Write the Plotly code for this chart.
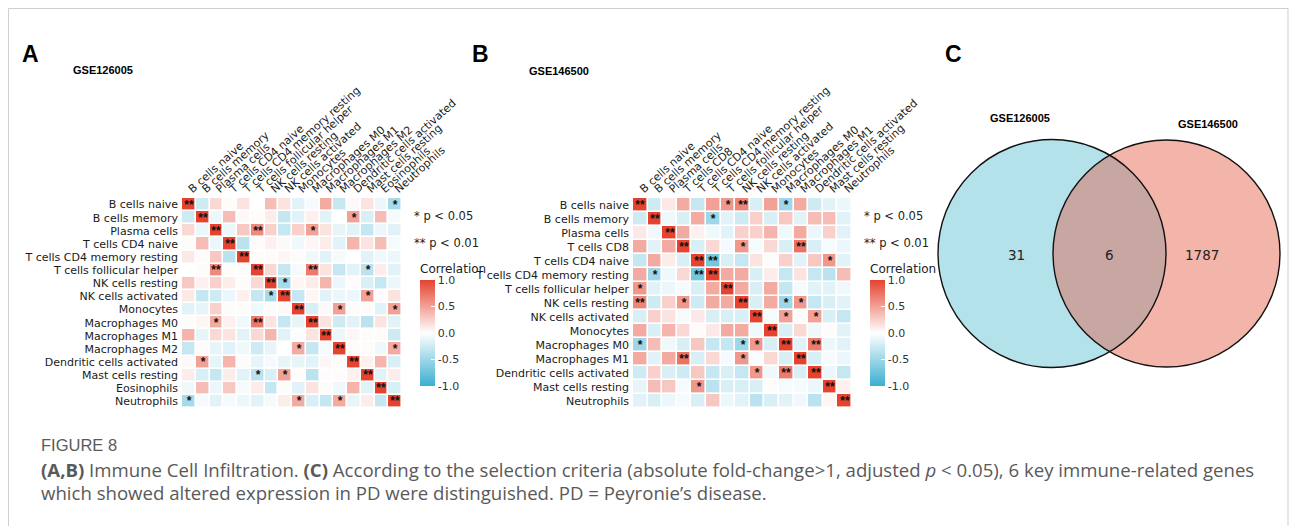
import numpy as np
import plotly.graph_objects as go

W, H = 1293, 526

# ---------------- data ----------------
cells_a = ["B cells naive", "B cells memory", "Plasma cells", "T cells CD4 naive",
           "T cells CD4 memory resting", "T cells follicular helper", "NK cells resting",
           "NK cells activated", "Monocytes", "Macrophages M0", "Macrophages M1",
           "Macrophages M2", "Dendritic cells activated", "Mast cells resting",
           "Eosinophils", "Neutrophils"]

corr_a = [
    [1.00, -0.25, 0.20, 0.02, 0.15, 0.00, 0.35, 0.15, -0.15, -0.05, 0.45, -0.30, 0.03, 0.15, -0.10, -0.45],
    [-0.25, 1.00, -0.10, 0.35, 0.03, 0.02, 0.10, -0.30, -0.15, 0.08, -0.15, 0.00, 0.50, -0.20, 0.35, -0.05],
    [0.20, -0.10, 1.00, -0.10, 0.30, 0.62, 0.25, -0.30, 0.25, 0.50, 0.15, -0.12, -0.15, -0.30, -0.10, -0.15],
    [0.02, 0.35, -0.10, 1.00, -0.35, 0.02, 0.08, 0.03, -0.08, 0.05, 0.10, -0.15, 0.40, 0.15, 0.35, -0.05],
    [0.12, 0.02, 0.30, -0.35, 1.00, 0.02, 0.02, 0.05, 0.02, -0.08, -0.15, -0.05, 0.00, -0.15, -0.08, -0.10],
    [0.00, 0.02, 0.62, 0.02, 0.02, 1.00, 0.20, -0.30, -0.05, 0.70, 0.15, -0.30, -0.15, -0.35, 0.10, -0.15],
    [0.30, 0.08, 0.25, 0.10, 0.02, 0.20, 1.00, -0.45, 0.05, 0.10, 0.40, -0.10, 0.02, -0.20, -0.30, -0.10],
    [0.12, -0.30, -0.25, -0.10, 0.08, -0.30, -0.45, 1.00, -0.30, 0.05, -0.15, -0.10, -0.10, 0.50, 0.02, 0.15],
    [-0.15, -0.12, 0.25, 0.02, 0.02, -0.08, 0.02, 0.03, 1.00, -0.20, 0.03, 0.50, 0.02, 0.02, -0.15, 0.50],
    [0.02, 0.05, 0.45, 0.08, -0.08, 0.70, 0.15, -0.30, -0.12, 1.00, 0.15, -0.25, -0.15, -0.35, 0.15, -0.15],
    [0.40, -0.12, 0.20, 0.15, -0.15, 0.20, 0.40, -0.15, -0.03, 0.15, 1.00, -0.10, 0.05, 0.02, 0.02, -0.25],
    [-0.30, 0.02, -0.12, -0.15, -0.08, -0.25, -0.12, 0.00, 0.45, -0.30, -0.05, 1.00, 0.02, 0.02, -0.08, 0.45],
    [0.03, 0.50, -0.12, 0.40, 0.02, -0.12, -0.05, -0.12, -0.12, -0.15, 0.05, 0.02, 1.00, 0.08, 0.40, -0.20],
    [0.10, -0.20, -0.30, 0.10, -0.15, -0.35, -0.20, 0.50, 0.02, -0.35, 0.02, 0.02, 0.08, 1.00, -0.15, 0.10],
    [-0.08, 0.35, -0.10, 0.30, -0.05, 0.10, -0.30, 0.02, -0.15, 0.15, 0.02, -0.08, 0.40, -0.15, 1.00, -0.20],
    [-0.45, -0.05, -0.15, -0.05, -0.10, -0.15, -0.05, 0.10, 0.45, -0.20, -0.30, 0.45, -0.12, 0.10, -0.30, 1.00],
]

# significance level per cell: 0 = n.s., 1 = p < 0.05, 2 = p < 0.01
sig_a = [
    [2, 0, 0, 0, 0, 0, 0, 0, 0, 0, 0, 0, 0, 0, 0, 1],
    [0, 2, 0, 0, 0, 0, 0, 0, 0, 0, 0, 0, 1, 0, 0, 0],
    [0, 0, 2, 0, 0, 2, 0, 0, 0, 1, 0, 0, 0, 0, 0, 0],
    [0, 0, 0, 2, 0, 0, 0, 0, 0, 0, 0, 0, 0, 0, 0, 0],
    [0, 0, 0, 0, 2, 0, 0, 0, 0, 0, 0, 0, 0, 0, 0, 0],
    [0, 0, 2, 0, 0, 2, 0, 0, 0, 2, 0, 0, 0, 1, 0, 0],
    [0, 0, 0, 0, 0, 0, 2, 1, 0, 0, 0, 0, 0, 0, 0, 0],
    [0, 0, 0, 0, 0, 0, 1, 2, 0, 0, 0, 0, 0, 1, 0, 0],
    [0, 0, 0, 0, 0, 0, 0, 0, 2, 0, 0, 1, 0, 0, 0, 1],
    [0, 0, 1, 0, 0, 2, 0, 0, 0, 2, 0, 0, 0, 0, 0, 0],
    [0, 0, 0, 0, 0, 0, 0, 0, 0, 0, 2, 0, 0, 0, 0, 0],
    [0, 0, 0, 0, 0, 0, 0, 0, 1, 0, 0, 2, 0, 0, 0, 1],
    [0, 1, 0, 0, 0, 0, 0, 0, 0, 0, 0, 0, 2, 0, 0, 0],
    [0, 0, 0, 0, 0, 1, 0, 1, 0, 0, 0, 0, 0, 2, 0, 0],
    [0, 0, 0, 0, 0, 0, 0, 0, 0, 0, 0, 0, 0, 0, 2, 0],
    [1, 0, 0, 0, 0, 0, 0, 0, 1, 0, 0, 1, 0, 0, 0, 2],
]

cells_b = ["B cells naive", "B cells memory", "Plasma cells", "T cells CD8",
           "T cells CD4 naive", "T cells CD4 memory resting", "T cells follicular helper",
           "NK cells resting", "NK cells activated", "Monocytes", "Macrophages M0",
           "Macrophages M1", "Dendritic cells activated", "Mast cells resting", "Neutrophils"]

corr_b = [
    [1.00, -0.25, 0.12, 0.45, -0.30, 0.50, 0.55, 0.65, -0.20, 0.50, -0.50, 0.45, -0.25, -0.15, -0.10],
    [-0.25, 1.00, -0.08, -0.20, 0.45, -0.50, -0.15, -0.25, 0.25, -0.20, 0.30, -0.15, 0.35, 0.35, -0.15],
    [0.12, -0.08, 1.00, 0.45, 0.08, -0.08, -0.15, 0.25, 0.25, 0.40, -0.08, 0.45, -0.10, 0.25, -0.15],
    [0.45, -0.15, 0.45, 1.00, -0.20, 0.20, -0.05, 0.55, -0.05, 0.20, -0.20, 0.75, -0.20, -0.05, -0.10],
    [-0.30, 0.45, 0.10, -0.20, 1.00, -0.70, -0.20, -0.30, 0.15, 0.02, 0.25, -0.15, 0.30, 0.55, -0.15],
    [0.45, -0.50, -0.08, 0.20, -0.70, 1.00, 0.45, 0.45, -0.20, 0.10, -0.30, 0.15, -0.30, -0.35, 0.35],
    [0.55, -0.15, -0.10, -0.05, -0.20, 0.45, 1.00, 0.45, -0.20, 0.45, -0.30, -0.05, -0.15, -0.15, -0.08],
    [0.65, -0.25, 0.25, 0.55, -0.25, 0.45, 0.45, 1.00, -0.20, 0.45, -0.50, 0.55, -0.30, -0.20, -0.15],
    [-0.20, 0.25, 0.15, -0.05, 0.12, -0.20, -0.20, -0.20, 1.00, -0.05, 0.50, 0.02, 0.50, -0.20, -0.30],
    [0.45, -0.20, 0.40, 0.20, 0.02, 0.12, 0.45, 0.45, -0.08, 1.00, -0.20, 0.20, -0.08, 0.02, -0.15],
    [-0.50, 0.35, -0.08, -0.20, 0.30, -0.30, -0.30, -0.50, 0.55, -0.20, 1.00, -0.15, 0.70, -0.10, -0.15],
    [0.45, -0.15, 0.45, 0.75, -0.20, 0.20, -0.05, 0.55, -0.03, 0.20, -0.20, 1.00, -0.20, -0.05, -0.10],
    [-0.25, 0.25, -0.20, -0.25, 0.30, -0.30, -0.20, -0.30, 0.55, -0.08, 0.70, -0.20, 1.00, -0.10, -0.30],
    [-0.12, 0.35, 0.30, -0.05, 0.55, -0.35, -0.20, -0.20, -0.20, 0.02, -0.05, -0.05, -0.10, 1.00, 0.08],
    [-0.15, -0.20, -0.10, -0.05, -0.20, 0.30, -0.10, -0.15, -0.35, -0.20, -0.15, -0.08, -0.35, 0.05, 1.00],
]

sig_b = [
    [2, 0, 0, 0, 0, 0, 1, 2, 0, 0, 1, 0, 0, 0, 0],
    [0, 2, 0, 0, 0, 1, 0, 0, 0, 0, 0, 0, 0, 0, 0],
    [0, 0, 2, 0, 0, 0, 0, 0, 0, 0, 0, 0, 0, 0, 0],
    [0, 0, 0, 2, 0, 0, 0, 1, 0, 0, 0, 2, 0, 0, 0],
    [0, 0, 0, 0, 2, 2, 0, 0, 0, 0, 0, 0, 0, 1, 0],
    [0, 1, 0, 0, 2, 2, 0, 0, 0, 0, 0, 0, 0, 0, 0],
    [1, 0, 0, 0, 0, 0, 2, 0, 0, 0, 0, 0, 0, 0, 0],
    [2, 0, 0, 1, 0, 0, 0, 2, 0, 0, 1, 1, 0, 0, 0],
    [0, 0, 0, 0, 0, 0, 0, 0, 2, 0, 1, 0, 1, 0, 0],
    [0, 0, 0, 0, 0, 0, 0, 0, 0, 2, 0, 0, 0, 0, 0],
    [1, 0, 0, 0, 0, 0, 0, 1, 1, 0, 2, 0, 2, 0, 0],
    [0, 0, 0, 2, 0, 0, 0, 1, 0, 0, 0, 2, 0, 0, 0],
    [0, 0, 0, 0, 0, 0, 0, 0, 1, 0, 2, 0, 2, 0, 0],
    [0, 0, 0, 0, 1, 0, 0, 0, 0, 0, 0, 0, 0, 2, 0],
    [0, 0, 0, 0, 0, 0, 0, 0, 0, 0, 0, 0, 0, 0, 2],
]

cbar_ticks = [-1.0, -0.5, 0.0, 0.5, 1.0]
cbar_labels = ["-1.0", "-0.5", "0.0", "0.5", "1.0"]

venn_sets = ["GSE126005", "GSE146500"]
venn_counts = {"only_a": 31, "both": 6, "only_b": 1787}

# ---------------- helpers ----------------
def px(x):
    return x / W


def py(y):
    return 1 - y / H


STAR = {0: "", 1: "*", 2: "**"}
SCALE = [[0.0, "#3AAFD0"], [0.5, "#FFFFFF"], [1.0, "#E5432F"]]
TXT = "Liberation Sans, Arial, sans-serif"
LAB = "DejaVu Sans, Liberation Sans, sans-serif"
LAB_SIZE = 11

fig = go.Figure()


def add_heat(names, z, sig, xa, ya, cax):
    fig.add_trace(go.Heatmap(
        z=z, x=names, y=names,
        text=[[STAR[s] for s in row] for row in sig],
        texttemplate="%{text}",
        textfont=dict(size=12, color="#111111", family=TXT, weight="bold"),
        coloraxis=cax, xgap=1.6, ygap=1.6,
        xaxis=xa, yaxis=ya, hoverinfo="skip",
    ))


add_heat(cells_a, corr_a, sig_a, "x", "y", "coloraxis")
add_heat(cells_b, corr_b, sig_b, "x2", "y2", "coloraxis2")


def cbar(x_left):
    return dict(
        cmin=-1, cmax=1, colorscale=SCALE,
        colorbar=dict(
            x=px(x_left), xanchor="left", y=py(261), yanchor="top", ypad=0,
            lenmode="pixels", len=125, thickness=15, outlinewidth=0,
            tickvals=cbar_ticks, ticktext=cbar_labels, ticks="inside",
            tickcolor="white", ticklen=4,
            tickfont=dict(size=11, color="#333333", family=LAB),
            title=dict(text="Correlation", side="top",
                       font=dict(size=12, color="#222222", family=LAB)),
        ),
    )


axis_common = dict(showgrid=False, zeroline=False, ticks="", showline=False,
                   automargin=False, tickmode="array")
lab_font = dict(size=LAB_SIZE, color="#1a1a1a", family=LAB)
fig.update_layout(
    width=W, height=H, margin=dict(l=0, r=0, t=0, b=0, pad=0, autoexpand=False),
    paper_bgcolor="white", plot_bgcolor="white", showlegend=False,
    coloraxis=cbar(410), coloraxis2=cbar(860),
    xaxis=dict(domain=[px(182), px(402)], side="top", tickangle=-42, anchor="y",
               tickvals=cells_a, ticktext=cells_a, tickfont=lab_font, **axis_common),
    yaxis=dict(domain=[py(408), py(198)], autorange="reversed", anchor="x",
               ticklabelstandoff=3,
               tickvals=cells_a, ticktext=cells_a, tickfont=lab_font, **axis_common),
    xaxis2=dict(domain=[px(633), px(852)], side="top", tickangle=-42, anchor="y2",
                tickvals=cells_b, ticktext=cells_b, tickfont=lab_font, **axis_common),
    yaxis2=dict(domain=[py(408), py(198)], autorange="reversed", anchor="x2",
                ticklabelstandoff=3,
                tickvals=cells_b, ticktext=cells_b, tickfont=lab_font, **axis_common),
)

# ---------------- annotations ----------------
anns = []


def note(text, x, y, size, color="#111111", family=TXT, xanchor="left", yanchor="middle"):
    anns.append(dict(text=text, x=px(x), y=py(y), xref="paper", yref="paper",
                     showarrow=False, xanchor=xanchor, yanchor=yanchor,
                     font=dict(size=size, color=color, family=family)))


# panel letters and dataset titles
note("<b>A</b>", 20, 54, 23, "#000000")
note("<b>B</b>", 470, 54, 23, "#000000")
note("<b>C</b>", 943, 54, 23, "#000000")
note("<b>GSE126005</b>", 71, 70, 11, "#000000")
note("<b>GSE146500</b>", 527, 71, 11, "#000000")

# significance keys
for x0 in (412, 862):
    note("* p < 0.05", x0, 216, 11.5, "#222222", LAB)
    note("** p < 0.01", x0, 243, 11.5, "#222222", LAB)

# Venn labels and counts
note("<b>" + venn_sets[0] + "</b>", 1020, 118, 11, "#000000", xanchor="center")
note("<b>" + venn_sets[1] + "</b>", 1208, 124, 11, "#000000", xanchor="center")
note(str(venn_counts["only_a"]), 1016, 255, 13.5, "#222222", LAB, xanchor="center")
note(str(venn_counts["both"]), 1109, 255, 13.5, "#222222", LAB, xanchor="center")
note(str(venn_counts["only_b"]), 1202, 255, 13.5, "#222222", LAB, xanchor="center")

# caption
CAP = "Open Sans, Noto Sans, sans-serif"
note("FIGURE 8", 39, 445, 16.5, "#5a5a5a", "Liberation Sans, sans-serif")
note("<b>(A,B)</b> Immune Cell Infiltration. <b>(C)</b> According to the selection criteria "
     "(absolute fold-change>1, adjusted <i>p</i> < 0.05), 6 key immune-related genes",
     39, 469, 18.6, "#595959", CAP)
note("which showed altered expression in PD were distinguished. PD = Peyronie’s disease.",
     39, 492, 18.6, "#595959", CAP)

# ---------------- Venn shapes ----------------
shapes = []
c1, r1 = (1052.0, 253.5), 114.0
c2, r2 = (1166.5, 253.5), 113.5


def circle(c, r, fill, line):
    return dict(type="circle", xref="paper", yref="paper",
                x0=px(c[0] - r), x1=px(c[0] + r), y0=py(c[1] + r), y1=py(c[1] - r),
                fillcolor=fill, line=line, layer="above")


# outer frame
shapes.append(dict(type="rect", xref="paper", yref="paper",
                   x0=px(8.5), x1=px(1288), y0=py(540), y1=py(8.5),
                   line=dict(color="#cfcfcf", width=1), fillcolor="rgba(0,0,0,0)"))

shapes.append(circle(c1, r1, "#B4E2EA", dict(width=0)))
shapes.append(circle(c2, r2, "#F3B4AA", dict(width=0)))

# lens-shaped overlap region
d = c2[0] - c1[0]
a = (d ** 2 + r1 ** 2 - r2 ** 2) / (2 * d)
h = np.sqrt(r1 ** 2 - a ** 2)
t1 = np.arctan2(h, a)
t2 = np.arctan2(h, a - d)
ang1 = np.linspace(-t1, t1, 60)
ang2 = np.linspace(t2, 2 * np.pi - t2, 60)
xs = np.concatenate([c1[0] + r1 * np.cos(ang1), c2[0] + r2 * np.cos(ang2)])
ys = np.concatenate([c1[1] + r1 * np.sin(ang1), c2[1] + r2 * np.sin(ang2)])
path = "M " + " L ".join(f"{px(x):.5f},{py(y):.5f}" for x, y in zip(xs, ys)) + " Z"
shapes.append(dict(type="path", xref="paper", yref="paper", path=path,
                   fillcolor="#C8A7A3", line=dict(width=0), layer="above"))

shapes.append(circle(c1, r1, "rgba(0,0,0,0)", dict(color="#111111", width=1.4)))
shapes.append(circle(c2, r2, "rgba(0,0,0,0)", dict(color="#111111", width=1.4)))

fig.update_layout(annotations=anns, shapes=shapes)
fig.write_html("out.html")
